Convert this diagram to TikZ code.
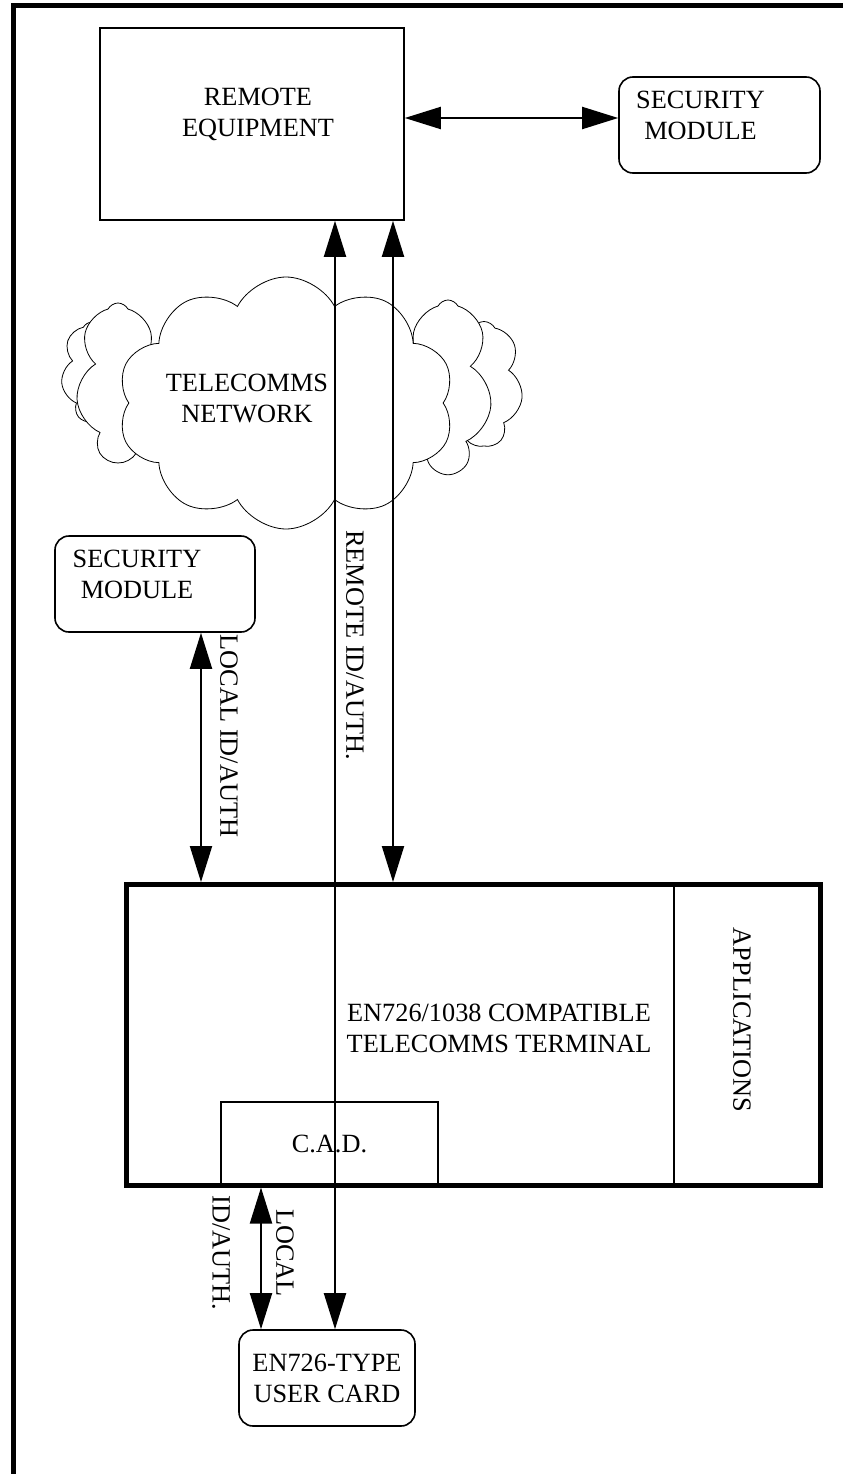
\documentclass[tikz,border=0pt]{standalone}
\usepackage{fontspec}
\setmainfont{Liberation Serif}
\usetikzlibrary{arrows.meta,shapes.symbols,calc,positioning}

\begin{document}
\begin{tikzpicture}[x=1pt,y=-1pt,
    every node/.style={font=\fontsize{26.3}{31}\selectfont,inner sep=0pt,align=center},
    box/.style={draw,line width=1.6pt},
    rbox/.style={draw,line width=1.6pt,rounded corners=14pt},
    puff/.style={cloud,cloud ignores aspect,draw,fill=white,line width=0.8pt,cloud puff arc=125},
    dbl/.style={line width=2pt,>={Triangle[length=36pt,width=22pt]},<->},
    vlab/.style={rotate=-90}]
  \useasboundingbox (0,0) rectangle (843,1474);
  % frame, top and left side only
  \draw[line width=5pt] (13,1474) -- (13,6) -- (843,6);

  % boxes
  \node[box,minimum width=304pt,minimum height=192pt] (remote) at (252,124) {};
  \node (remotetxt) at ([xshift=6pt,yshift=10pt]remote.center) {REMOTE\\EQUIPMENT};
  \node[rbox,minimum width=201pt,minimum height=96pt] (secR) at (719.5,125) {};
  \node (secRtxt) at ([xshift=-19pt,yshift=10pt]secR.center) {SECURITY\\MODULE};
  \node[rbox,minimum width=200pt,minimum height=96pt] (secL) at (155,584) {};
  \node (secLtxt) at ([xshift=-18pt,yshift=10pt]secL.center) {SECURITY\\MODULE};

  % network cloud
  \node[puff,cloud puffs=7,minimum width=62pt,minimum height=100pt] (cloudLb) at (92,372) {};
  \node[puff,cloud puffs=7,minimum width=78pt,minimum height=125pt] (cloudRb) at (484,384) {};
  \node[puff,cloud puffs=7,minimum width=84pt,minimum height=158pt] (cloudLm) at (118,382) {};
  \node[puff,cloud puffs=7,minimum width=88pt,minimum height=172pt] (cloudRm) at (448,386) {};
  \node[puff,cloud puffs=10,minimum width=337pt,minimum height=252pt] (cloud) at (286,403) {};
  \node (cloudtxt) at (247,398) {TELECOMMS\\NETWORK};

  % terminal
  \node[draw,line width=5pt,minimum width=694.5pt,minimum height=300.5pt] (term) at (473.25,1034.75) {};
  \coordinate (appX) at (674,0);
  \draw[line width=1.6pt] (term.north -| appX) -- (term.south -| appX);
  \node[vlab] (apps) at (742,1020) {APPLICATIONS};
  \node (termtxt) at (499,1028) {EN726/1038 COMPATIBLE\\TELECOMMS TERMINAL};
  \node[box,minimum width=217pt,minimum height=83pt] (cad) at (329.5,1143.5) {C.A.D.};
  \node[rbox,minimum width=176pt,minimum height=96pt] (card) at (327,1378) {EN726-TYPE\\USER CARD};

  % links
  \coordinate (hY) at (0,118);
  \coordinate (remX) at (335,0);
  \coordinate (netX) at (393,0);
  \coordinate (locX) at (201,0);
  \coordinate (cadX) at (261,0);
  \draw[dbl] (remote.east |- hY) -- (secR.west |- hY);
  \draw[dbl] (remote.south -| remX) -- (card.north -| remX);
  \draw[dbl] (remote.south -| netX) -- (term.north -| netX);
  \draw[dbl] (secL.south -| locX) -- (term.north -| locX);
  \draw[dbl] (term.south -| cadX) -- (card.north -| cadX);
%  \draw[dbl] (cad.south) -- (card.north);

  % labels
  \node[vlab] (remlab) at (355,645) {REMOTE ID/AUTH.};
  \node[vlab] (loclab) at (229,736) {LOCAL ID/AUTH};
  \node[vlab] (cadlab1) at (285,1253) {LOCAL};
  \node[vlab] (cadlab2) at (221,1253) {ID/AUTH.};
\end{tikzpicture}
\end{document}
